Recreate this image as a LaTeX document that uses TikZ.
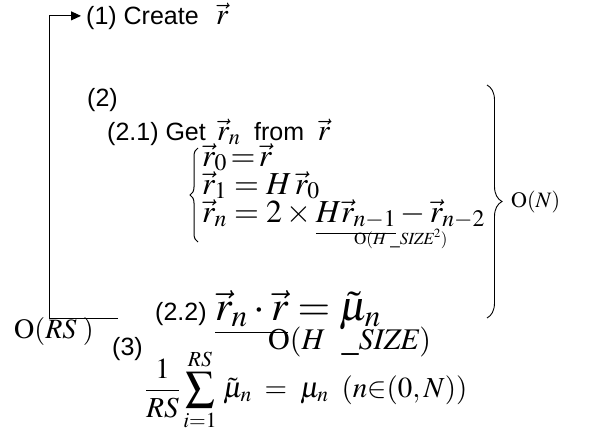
\documentclass[tikz,border=0pt]{standalone}
\usepackage{amsmath}
\usepackage{mathptmx}
\usepackage[no-math]{fontspec}
\setmainfont{Liberation Sans}
\usetikzlibrary{arrows.meta,decorations.pathreplacing}
\newcommand{\fs}[1]{\fontsize{#1}{#1}\selectfont}
\begin{document}
\begin{tikzpicture}[x=1pt,y=-1pt,
  txt/.style={anchor=base west,inner sep=0pt,font=\fs{25}},
  row/.style={anchor=base west,inner sep=0pt,font=\fs{32}},
  cost/.style={anchor=base west,inner sep=0pt,font=\fs{30}},
  loop/.style={line width=0.9pt,-{Triangle[length=10pt,width=9pt]},shorten >=5pt},
  bigbrace/.style={line width=0.9pt,decorate,decoration={brace,amplitude=15pt}},
  lbrace/.style={line width=1pt,decorate,decoration={brace,amplitude=8pt,mirror}}]
\useasboundingbox (0,0) rectangle (616,439);
\node[txt] (s1) at (86,24) {(1) Create\hspace{0.7em}{\fs{30}$\vec r$}};
\node[txt] (s2) at (87,106) {(2)};
\node[txt] (s21) at (107,140) {(2.1) Get\hspace{0.45em}{\fs{30}$\vec r_n$}\hspace{0.55em}from\hspace{0.55em}{\fs{30}$\vec r$}};
\coordinate (lbt) at (198,148);
\coordinate (lbb) at (198,242);
\draw[lbrace] (lbt) -- (lbb);
\node[row] (r0) at (202,166) {$\vec r_0\,{=}\,\vec r$};
\node[row] (r1) at (202,194) {$\vec r_1 = H\,\vec r_0$};
\node[row] (rn) at (202,222) {$\vec r_n = 2\times \underline{H\vec r_{n-1}} - \vec r_{n-2}$};
\node[anchor=west,inner sep=0pt,font=\fs{17}] (hsz) at (354,239) {$\mathrm{O}(H\;\_\mathit{SIZE}^{2})$};
\node[txt] (s22) at (155,320) {(2.2)\hspace{0.35em}{\fs{42}$\underline{\vec r_n\cdot\vec r} = \tilde\mu_n$}};
\node[cost] (ohs) at (268,349) {$\mathrm{O}(H\ \ \_\mathit{SIZE})$};
\node[cost,font=\fs{28}] (ors) at (14,338) {$\mathrm{O}(\mathit{RS}\;)$};
\node[anchor=west,inner sep=0pt,font=\fs{22}] (on) at (511,202) {$\mathrm{O}(N)$};
\node[txt] (s3) at (112,355) {(3)};
\node[anchor=west,inner sep=0pt,font=\fs{29}] (avg) at (145,390)
  {$\displaystyle\frac{1}{RS}\sum_{i=1}^{RS}\,\tilde\mu_{n} \;=\; \mu_{n}\;\;(n{\in}(0,N))$};
\coordinate (bt) at (487,85);
\coordinate (bb) at (487,318);
\draw[bigbrace] (bt) -- (bb);
\coordinate (ls) at (118,318);
\coordinate (lc) at (49,318);
\draw[loop] (ls) -- (lc) |- (s1.west);
\end{tikzpicture}
\end{document}
